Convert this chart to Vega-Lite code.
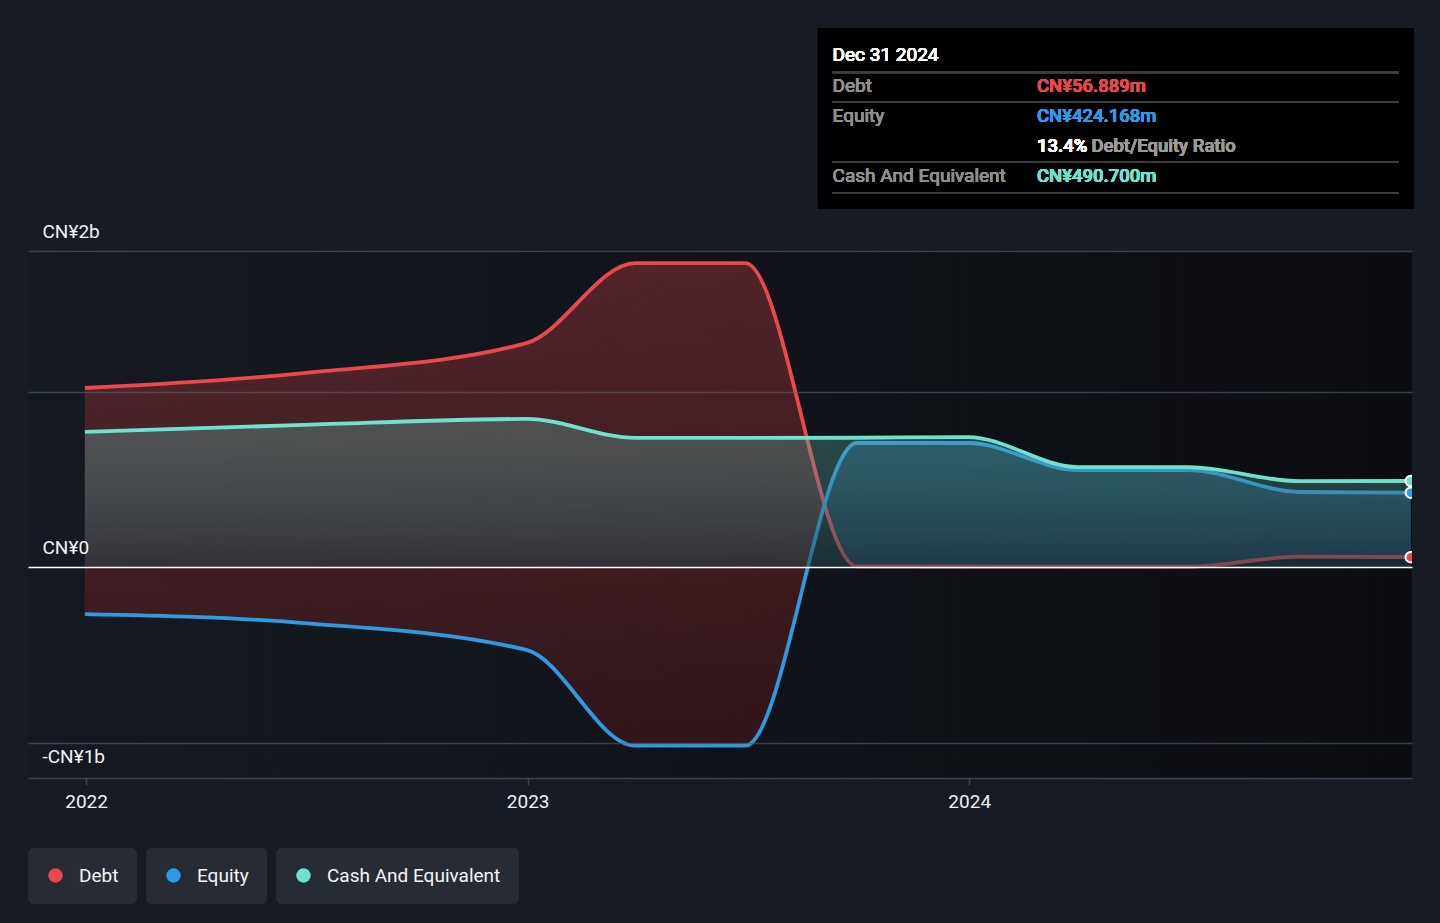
{
  "$schema": "https://vega.github.io/schema/vega-lite/v6.json",
  "autosize": {"type": "none"},
  "width": 1384,
  "height": 527,
  "padding": {"left": 28, "top": 251, "right": 28, "bottom": 145},
  "background": "#161b24",
  "view": {
    "stroke": null,
    "fill": {"gradient": "linear", "x1": 0, "y1": 0, "x2": 1, "y2": 0,
      "stops": [{"offset": 0, "color": "#151a22"}, {"offset": 1, "color": "#0b0d11"}]}
  },
  "config": {"font": "Roboto"},
  "data": {
    "values": [
      {"date": "2021-12-31", "debt": 1.020, "equity": -0.267, "cash": 0.770},
      {"date": "2022-06-30", "debt": 1.105, "equity": -0.318, "cash": 0.810},
      {"date": "2022-12-31", "debt": 1.276, "equity": -0.471, "cash": 0.844},
      {"date": "2023-03-31", "debt": 1.731, "equity": -1.016, "cash": 0.736},
      {"date": "2023-06-30", "debt": 1.731, "equity": -1.016, "cash": 0.736},
      {"date": "2023-09-30", "debt": 0.005, "equity": 0.707, "cash": 0.737},
      {"date": "2023-12-31", "debt": 0.004, "equity": 0.707, "cash": 0.741},
      {"date": "2024-03-31", "debt": 0.003, "equity": 0.553, "cash": 0.570},
      {"date": "2024-06-30", "debt": 0.003, "equity": 0.553, "cash": 0.570},
      {"date": "2024-09-30", "debt": 0.060, "equity": 0.428, "cash": 0.490},
      {"date": "2024-12-31", "debt": 0.0569, "equity": 0.4242, "cash": 0.4907}
    ]
  },
  "layer": [
    {
      "mark": {"type": "area", "interpolate": "monotone",
        "fill": {"gradient": "linear", "x1": 0, "y1": 0, "x2": 1, "y2": 0,
          "stops": [
            {"offset": 0, "color": "rgba(232,72,78,0.3)"},
            {"offset": 0.556, "color": "rgba(232,72,78,0.3)"},
            {"offset": 0.556, "color": "rgba(45,155,227,0.32)"},
            {"offset": 1, "color": "rgba(45,155,227,0.32)"}
          ]}},
      "encoding": {
        "x": {
          "field": "date", "type": "temporal",
          "scale": {"type": "utc", "nice": false,
            "domain": [{"year": 2021, "month": 11, "date": 14, "utc": true}, {"year": 2025, "month": 1, "date": 1, "utc": true}]},
          "axis": {
            "title": null,
            "values": [{"year": 2022, "month": 1, "date": 1, "utc": true}, {"year": 2023, "month": 1, "date": 1, "utc": true}, {"year": 2024, "month": 1, "date": 1, "utc": true}],
            "labelExpr": "utcFormat(datum.value, '%Y')",
            "grid": false,
            "domainColor": "#40454d", "domainWidth": 1.5,
            "tickColor": "#40454d", "tickWidth": 1.5, "tickSize": 7,
            "labelPadding": 7, "labelFontSize": 19, "labelFontWeight": 400,
            "labelColor": "#f2f2f2", "labelFlush": false
          }
        },
        "y": {
          "field": "debt", "type": "quantitative",
          "scale": {"domain": [-1.2, 1.8], "nice": false, "zero": false},
          "axis": {
            "title": null,
            "zindex": 1,
            "values": [1.8, 1, 0, -1],
            "domain": false, "ticks": false, "tickSize": 0,
            "grid": true,
            "gridColor": {"condition": {"test": "datum.value === 0", "value": "#ffffff"}, "value": "rgba(88,94,104,0.6)"},
            "gridWidth": 1.5,
            "labelExpr": "datum.value === 1.8 ? 'CN¥2b' : datum.value === 0 ? 'CN¥0' : datum.value === -1 ? '-CN¥1b' : ''",
            "labelAlign": "left", "labelPadding": -14,
            "labelBaseline": "alphabetic",
            "labelOffset": {"condition": {"test": "datum.value < -0.5", "value": 20}, "value": -14},
            "labelFontSize": 19, "labelFontWeight": 400, "labelColor": "#f2f2f2",
            "labelFlush": false, "labelOverlap": false
          }
        },
        "y2": {"field": "equity"}
      }
    },
    {
      "mark": {"type": "area", "interpolate": "monotone",
        "fill": {"gradient": "linear", "x1": 0, "y1": 0, "x2": 0, "y2": 1,
          "stops": [{"offset": 0, "color": "rgba(0,0,0,0)"}, {"offset": 1, "color": "rgba(0,0,0,0.4)"}]}},
      "encoding": {
        "x": {"field": "date", "type": "temporal"},
        "y": {"field": "debt", "type": "quantitative"},
        "y2": {"field": "equity"}
      }
    },
    {
      "mark": {"type": "line", "interpolate": "monotone", "color": "#e8484e", "strokeWidth": 3.8},
      "encoding": {
        "x": {"field": "date", "type": "temporal"},
        "y": {"field": "debt", "type": "quantitative"}
      }
    },
    {
      "mark": {"type": "line", "interpolate": "monotone", "color": "#2d9be3", "strokeWidth": 3.8},
      "encoding": {
        "x": {"field": "date", "type": "temporal"},
        "y": {"field": "equity", "type": "quantitative"}
      }
    },
    {
      "mark": {"type": "area", "interpolate": "monotone",
        "fill": {"gradient": "linear", "x1": 0, "y1": 0, "x2": 0, "y2": 1,
          "stops": [{"offset": 0, "color": "rgba(100,190,178,0.3)"}, {"offset": 1, "color": "rgba(40,65,75,0.55)"}]}},
      "encoding": {
        "x": {"field": "date", "type": "temporal"},
        "y": {"field": "cash", "type": "quantitative"},
        "y2": {"datum": 0}
      }
    },
    {
      "mark": {"type": "line", "interpolate": "monotone", "color": "#6fe2cf", "strokeWidth": 3.8},
      "encoding": {
        "x": {"field": "date", "type": "temporal"},
        "y": {"field": "cash", "type": "quantitative"}
      }
    },
    {
      "transform": [{"filter": "time(datum.date) === utc(2024, 11, 31)"}],
      "mark": {"type": "circle", "size": 110, "opacity": 1, "stroke": "#ffffff", "strokeWidth": 2, "clip": true},
      "encoding": {
        "x": {"field": "date", "type": "temporal"},
        "y": {"field": "debt", "type": "quantitative"},
        "color": {"datum": "Debt", "scale": {"domain": ["Debt"], "range": ["#e8484e"]},
          "legend": {"title": null, "orient": "none", "legendX": 0, "legendY": 597, "direction": "horizontal",
            "fillColor": "#272c34", "cornerRadius": 6, "padding": 18, "symbolType": "circle", "symbolSize": 210,
            "symbolStrokeWidth": 0, "labelFontSize": 19, "labelFontWeight": 400, "labelColor": "#f5f5f5", "labelOffset": 14, "labelLimit": 0}}
      }
    },
    {
      "transform": [{"filter": "time(datum.date) === utc(2024, 11, 31)"}],
      "mark": {"type": "circle", "size": 110, "opacity": 1, "stroke": "#ffffff", "strokeWidth": 2, "clip": true},
      "encoding": {
        "x": {"field": "date", "type": "temporal"},
        "y": {"field": "cash", "type": "quantitative"},
        "color": {"datum": "Cash And Equivalent", "scale": {"domain": ["Cash And Equivalent"], "range": ["#6fe2cf"]},
          "legend": {"title": null, "orient": "none", "legendX": 248, "legendY": 597, "direction": "horizontal",
            "fillColor": "#272c34", "cornerRadius": 6, "padding": 18, "symbolType": "circle", "symbolSize": 210,
            "symbolStrokeWidth": 0, "labelFontSize": 19, "labelFontWeight": 400, "labelColor": "#f5f5f5", "labelOffset": 14, "labelLimit": 0}}
      }
    },
    {
      "transform": [{"filter": "time(datum.date) === utc(2024, 11, 31)"}],
      "mark": {"type": "circle", "size": 110, "opacity": 1, "stroke": "#ffffff", "strokeWidth": 2, "clip": true},
      "encoding": {
        "x": {"field": "date", "type": "temporal"},
        "y": {"field": "equity", "type": "quantitative"},
        "color": {"datum": "Equity", "scale": {"domain": ["Equity"], "range": ["#2d9be3"]},
          "legend": {"title": null, "orient": "none", "legendX": 118, "legendY": 597, "direction": "horizontal",
            "fillColor": "#272c34", "cornerRadius": 6, "padding": 18, "symbolType": "circle", "symbolSize": 210,
            "symbolStrokeWidth": 0, "labelFontSize": 19, "labelFontWeight": 400, "labelColor": "#f5f5f5", "labelOffset": 14, "labelLimit": 0}}
      }
    },
    {
      "mark": {"type": "rect", "color": "#000000"},
      "encoding": {
        "x": {"datum": {"year": 2023, "month": 8, "date": 29, "utc": true}},
        "x2": {"datum": {"year": 2025, "month": 1, "date": 2, "utc": true}},
        "y": {"datum": 3.0694},
        "y2": {"datum": 2.0391}
      }
    },
    {
      "mark": {"type": "rule", "color": "#3c3c3c", "strokeWidth": 1.5},
      "encoding": {
        "x": {"datum": {"year": 2023, "month": 9, "date": 10, "utc": true}},
        "x2": {"datum": {"year": 2024, "month": 12, "date": 21, "utc": true}},
        "y": {"datum": 2.8161}
      }
    },
    {
      "mark": {"type": "rule", "color": "#3c3c3c", "strokeWidth": 1.5},
      "encoding": {
        "x": {"datum": {"year": 2023, "month": 9, "date": 10, "utc": true}},
        "x2": {"datum": {"year": 2024, "month": 12, "date": 21, "utc": true}},
        "y": {"datum": 2.6482}
      }
    },
    {
      "mark": {"type": "rule", "color": "#3c3c3c", "strokeWidth": 1.5},
      "encoding": {
        "x": {"datum": {"year": 2023, "month": 9, "date": 10, "utc": true}},
        "x2": {"datum": {"year": 2024, "month": 12, "date": 21, "utc": true}},
        "y": {"datum": 2.3066}
      }
    },
    {
      "mark": {"type": "rule", "color": "#3c3c3c", "strokeWidth": 1.5},
      "encoding": {
        "x": {"datum": {"year": 2023, "month": 9, "date": 10, "utc": true}},
        "x2": {"datum": {"year": 2024, "month": 12, "date": 21, "utc": true}},
        "y": {"datum": 2.1302}
      }
    },
    {
      "mark": {"type": "text", "text": "Dec 31 2024", "align": "left", "baseline": "middle", "fontSize": 19, "fontWeight": 400, "color": "#ffffff"},
      "encoding": {
        "x": {"datum": {"year": 2023, "month": 9, "date": 10, "utc": true}},
        "y": {"datum": 2.9157}
      }
    },
    {
      "mark": {"type": "text", "text": "Debt", "align": "left", "baseline": "middle", "fontSize": 19, "color": "#8e8e8e"},
      "encoding": {
        "x": {"datum": {"year": 2023, "month": 9, "date": 10, "utc": true}},
        "y": {"datum": 2.7393}
      }
    },
    {
      "mark": {"type": "text", "text": "Equity", "align": "left", "baseline": "middle", "fontSize": 19, "color": "#8e8e8e"},
      "encoding": {
        "x": {"datum": {"year": 2023, "month": 9, "date": 10, "utc": true}},
        "y": {"datum": 2.5685}
      }
    },
    {
      "mark": {"type": "text", "text": "Cash And Equivalent", "align": "left", "baseline": "middle", "fontSize": 19, "color": "#8e8e8e"},
      "encoding": {
        "x": {"datum": {"year": 2023, "month": 9, "date": 10, "utc": true}},
        "y": {"datum": 2.2269}
      }
    },
    {
      "mark": {"type": "text", "text": "CN¥56.889m", "align": "left", "baseline": "middle", "fontSize": 18.5, "fontWeight": 500, "color": "#e8484e"},
      "encoding": {
        "x": {"datum": {"year": 2024, "month": 2, "date": 26, "utc": true}},
        "y": {"datum": 2.7393}
      }
    },
    {
      "mark": {"type": "text", "text": "CN¥424.168m", "align": "left", "baseline": "middle", "fontSize": 18.5, "fontWeight": 500, "color": "#2d9be3"},
      "encoding": {
        "x": {"datum": {"year": 2024, "month": 2, "date": 26, "utc": true}},
        "y": {"datum": 2.5685}
      }
    },
    {
      "mark": {"type": "text", "text": "13.4%", "align": "left", "baseline": "middle", "fontSize": 18.5, "fontWeight": 500, "color": "#ffffff"},
      "encoding": {
        "x": {"datum": {"year": 2024, "month": 2, "date": 26, "utc": true}},
        "y": {"datum": 2.3977}
      }
    },
    {
      "mark": {"type": "text", "text": "Debt/Equity Ratio", "align": "left", "baseline": "middle", "fontSize": 18.5, "fontWeight": 500, "color": "#9a9a9a"},
      "encoding": {
        "x": {"datum": {"year": 2024, "month": 4, "date": 11, "utc": true}},
        "y": {"datum": 2.3977}
      }
    },
    {
      "mark": {"type": "text", "text": "CN¥490.700m", "align": "left", "baseline": "middle", "fontSize": 18.5, "fontWeight": 500, "color": "#6fe2cf"},
      "encoding": {
        "x": {"datum": {"year": 2024, "month": 2, "date": 26, "utc": true}},
        "y": {"datum": 2.2269}
      }
    }
  ],
  "resolve": {"scale": {"color": "independent"}, "legend": {"color": "independent"}}
}
